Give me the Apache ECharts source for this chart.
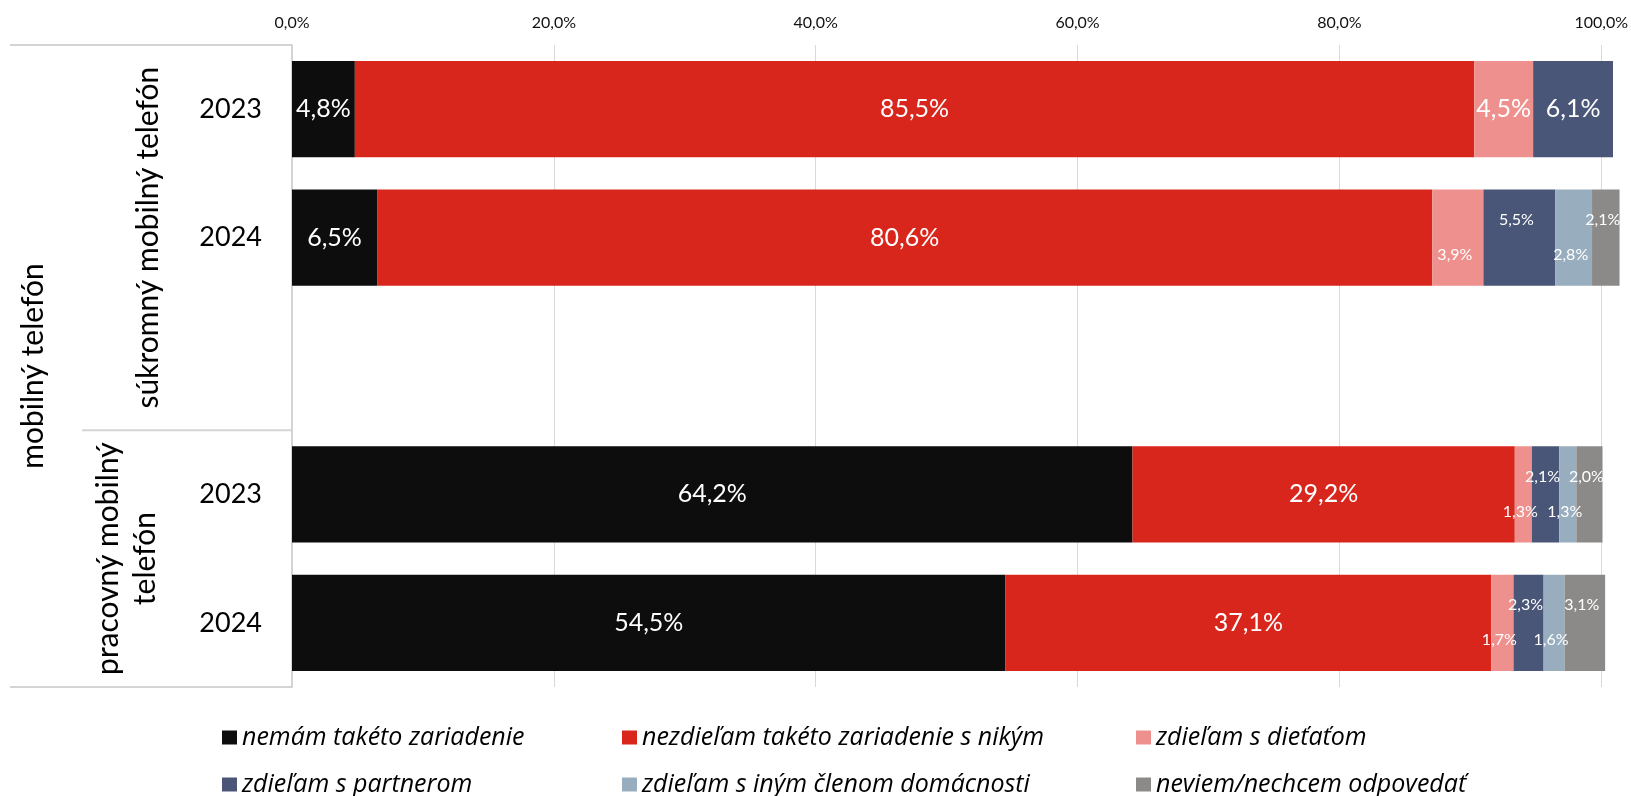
<!DOCTYPE html>
<html>
<head>
<meta charset="utf-8">
<script src="https://cdn.jsdelivr.net/npm/echarts@6/dist/echarts.min.js"></script>
<style>html,body{margin:0;padding:0;background:#fff}#c{width:1631px;height:796px}</style>
</head>
<body>
<div id="c"></div>
<script>
// ---- data ----
const categories = ['2023', '2024', '', '2023', '2024'];
const seriesNames = ['nemám takéto zariadenie', 'nezdieľam takéto zariadenie s nikým', 'zdieľam s dieťaťom', 'zdieľam s partnerom', 'zdieľam s iným členom domácnosti', 'neviem/nechcem odpovedať'];
const nemam      = [4.8, 6.5, null, 64.2, 54.5];
const nezdielam  = [85.5, 80.6, null, 29.2, 37.1];
const dieta      = [4.5, 3.9, null, 1.3, 1.7];
const partner    = [6.1, 5.5, null, 2.1, 2.3];
const inyClen    = [null, 2.8, null, 1.3, 1.6];
const neviem     = [null, 2.1, null, 2.0, 3.1];
const xTicks = [0, 20, 40, 60, 80, 100];
const groupLabels = ['súkromný mobilný telefón', 'pracovný mobilný\ntelefón'];
const topLabel = 'mobilný telefón';

// ---- styles ----
const FONT = 'Lato';
const colors = ['#0d0d0d', '#d9261c', '#ee918e', '#4a5677', '#98aebe', '#8b8a88'];
const allValues = [nemam, nezdielam, dieta, partner, inyClen, neviem];
// rows whose small segments get small, staggered labels
const smallRows = [1, 3, 4];
const smallOffsetY = [0, 0, 17, -18, 17, -18];

const fmt = v => v.toFixed(1).replace('.', ',') + '%';

const series = allValues.map((vals, si) => ({
  name: seriesNames[si],
  type: 'bar',
  stack: 'total',
  barWidth: '75%',
  clip: false,
  itemStyle: { color: colors[si] },
  data: vals.map((v, ri) => {
    const small = si >= 2 && smallRows.includes(ri);
    return {
      value: v,
      label: {
        show: v != null,
        position: 'inside',
        color: '#fff',
        fontFamily: FONT,
        fontSize: small ? 16 : 25,
        offset: small ? [-3, smallOffsetY[si]] : [0, 0],
        formatter: p => p.value == null ? '' : fmt(p.value)
      }
    };
  })
}));

const legendPos = [[217, 720], [617, 720], [1131, 720], [217, 767], [617, 767], [1131, 767]];
const legends = seriesNames.map((n, i) => ({
  data: [n],
  left: legendPos[i][0],
  top: legendPos[i][1],
  icon: 'rect',
  itemWidth: 15,
  itemHeight: 14,
  selectedMode: false,
  textStyle: { fontFamily: 'Open Sans', fontStyle: 'italic', fontSize: 25, color: '#000' }
}));

const chart = echarts.init(document.getElementById('c'));
chart.setOption({
  animation: false,
  color: colors,
  grid: { left: 292, right: 28, top: 45, bottom: 109, containLabel: false },
  xAxis: {
    type: 'value', position: 'top', min: 0, max: 100, interval: 20,
    axisLine: { show: false }, axisTick: { show: false },
    splitLine: { lineStyle: { color: '#d9d9d9', width: 1 } },
    axisLabel: { fontFamily: FONT, fontSize: 16, color: '#111', margin: 14, formatter: v => fmt(v) }
  },
  yAxis: {
    type: 'category', inverse: true, data: categories,
    axisLine: { lineStyle: { color: '#d4d4d4', width: 2 } },
    axisTick: { show: false },
    axisLabel: { fontFamily: FONT, fontSize: 27, color: '#000', margin: 30 }
  },
  legend: legends,
  series: series
});

// group decorations computed from the axis
const yc = categories.map((c, i) => chart.convertToPixel({ yAxisIndex: 0 }, i));
const step = yc[1] - yc[0];
const yTop = yc[0] - step / 2;
const yMid = (yc[2] + yc[3]) / 2;
const yBot = yc[4] + step / 2;
const axisX = chart.convertToPixel({ xAxisIndex: 0 }, 0);
const lineStyle = { stroke: '#d4d4d4', lineWidth: 2 };
const txt = (x, y, t, lh) => ({
  type: 'text', x: x, y: y, rotation: Math.PI / 2,
  style: { text: t, fontFamily: FONT, fontSize: 30, fill: '#000', align: 'center', verticalAlign: 'middle', lineHeight: lh || 34 }
});
chart.setOption({
  graphic: [
    { type: 'line', shape: { x1: 10, y1: yTop, x2: axisX, y2: yTop }, style: lineStyle },
    { type: 'line', shape: { x1: 82, y1: yMid, x2: axisX, y2: yMid }, style: lineStyle },
    { type: 'line', shape: { x1: 10, y1: yBot, x2: axisX, y2: yBot }, style: lineStyle },
    txt(33, (yTop + yBot) / 2, topLabel),
    txt(148, (yTop + yMid) / 2, groupLabels[0]),
    txt(127, (yMid + yBot) / 2, groupLabels[1], 37)
  ]
});
</script>
</body>
</html>
